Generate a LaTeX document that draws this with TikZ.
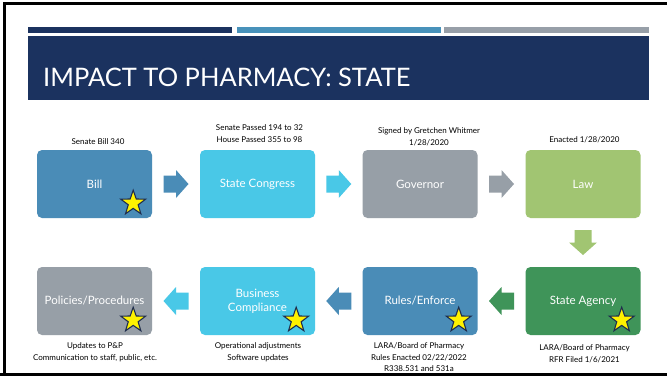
\documentclass[tikz,border=0pt]{standalone}
\usepackage{fontspec}
\setmainfont{Lato}
\usetikzlibrary{shapes.geometric,calc}
\definecolor{navy}{HTML}{1B325F}
\definecolor{barblue}{HTML}{4892BA}
\definecolor{bargray}{HTML}{979FA8}
\definecolor{steel}{HTML}{4A8CB7}
\definecolor{cyanbox}{HTML}{49C8E7}
\definecolor{graybox}{HTML}{979FA7}
\definecolor{lgreen}{HTML}{A1C572}
\definecolor{dgreen}{HTML}{3F9459}
\definecolor{starline}{HTML}{1F2D4E}
\newcommand\blockarrow[3]{%
  \fill[#3, shift={(#1)}, rotate=#2] (-12.5,-8.5) -- (0,-8.5) -- (0,-14) -- (12.5,0) -- (0,14) -- (0,8.5) -- (-12.5,8.5) -- cycle;}
\begin{document}
\begin{tikzpicture}[x=1pt,y=-1pt,
  box/.style={rounded corners=5pt, minimum width=115pt, minimum height=68pt, text=white,
    font=\fontsize{11.5}{14}\selectfont, align=center, inner sep=0pt},
  lab/.style={font=\fontsize{8}{11.5}\selectfont, align=center, inner sep=0pt},
  starmark/.style={star, star points=5, star point ratio=2.5, minimum size=26pt, inner sep=0pt,
    fill=yellow, draw=starline, line width=1.1pt}]
\useasboundingbox (0,0) rectangle (667,378);
\fill[white] (0,0) rectangle (667,378);
\begin{scope}
  \clip (0,0) rectangle (667,378);
  \draw[line width=3pt] (4.5,374.5) -- (4.5,3.5) -- (700,3.5);
  \draw[line width=3pt] (0,374.5) -- (700,374.5);
\end{scope}
% header bars
\fill[navy] (27.6,27) rectangle (231.6,33);
\fill[barblue] (236.7,27) rectangle (440.7,33);
\fill[bargray] (444.4,27) rectangle (649,33);
\fill[navy] (27.6,36) rectangle (649,100);
\node[anchor=base west, inner sep=0pt, text=white, font=\fontsize{25.5}{30}\selectfont] (title) at (43,86.7) {IMPACT TO PHARMACY: STATE};
% boxes row 1
\node[box, fill=steel] (bill) at (94.5,184) {Bill};
\node[box, fill=cyanbox] (cong) at (257.5,184) {State Congress};
\node[box, fill=graybox] (gov) at (420,184) {Governor};
\node[box, fill=lgreen] (law) at (583,184) {Law};
% boxes row 2
\node[box, fill=graybox] (pol) at (94.5,301) {Policies/Procedures};
\node[box, fill=cyanbox] (bus) at (257.5,301) {Business\\Compliance};
\node[box, fill=steel] (rules) at (420,301) {Rules/Enforce};
\node[box, fill=dgreen] (agency) at (583,301) {State Agency};
% arrows
\coordinate (a1) at ($(bill.east)!0.5!(cong.west)$);
\coordinate (a2) at ($(cong.east)!0.5!(gov.west)$);
\coordinate (a3) at ($(gov.east)!0.5!(law.west)$);
\coordinate (a4) at ($(law.south)!0.5!(agency.north)$);
\coordinate (a5) at ($(agency.west)!0.5!(rules.east)$);
\coordinate (a6) at ($(rules.west)!0.5!(bus.east)$);
\coordinate (a7) at ($(bus.west)!0.5!(pol.east)$);
\blockarrow{a1}{0}{steel}
\blockarrow{a2}{0}{cyanbox}
\blockarrow{a3}{0}{graybox}
\blockarrow{a4}{-90}{lgreen}
\blockarrow{a5}{180}{dgreen}
\blockarrow{a6}{180}{steel}
\blockarrow{a7}{180}{cyanbox}
% stars
\node[starmark] (s1) at ($(bill.south east)+(-19,-15)$) {};
\node[starmark] (s2) at ($(pol.south east)+(-19,-15)$) {};
\node[starmark] (s3) at ($(bus.south east)+(-19,-15)$) {};
\node[starmark] (s4) at ($(rules.south east)+(-19,-15)$) {};
\node[starmark] (s5) at ($(agency.south east)+(-19,-15)$) {};
% labels
\node[lab] (l1) at (98,142) {Senate Bill 340};
\node[lab] (l2) at (259.5,133.7) {Senate Passed 194 to 32\\House Passed 355 to 98};
\node[lab] (l3) at (429,136.7) {Signed by Gretchen Whitmer\\1/28/2020};
\node[lab] (l4) at (584.5,140) {Enacted 1/28/2020};
\node[lab] (l5) at (95,352.2) {Updates to P\&P\\Communication to staff, public, etc.};
\node[lab] (l6) at (258,352) {Operational adjustments\\Software updates};
\node[lab] (l7) at (419,357.4) {LARA/Board of Pharmacy\\Rules Enacted 02/22/2022\\R338.531 and 531a};
\node[lab] (l8) at (584.5,353.8) {LARA/Board of Pharmacy\\RFR Filed 1/6/2021};
\end{tikzpicture}
\end{document}
